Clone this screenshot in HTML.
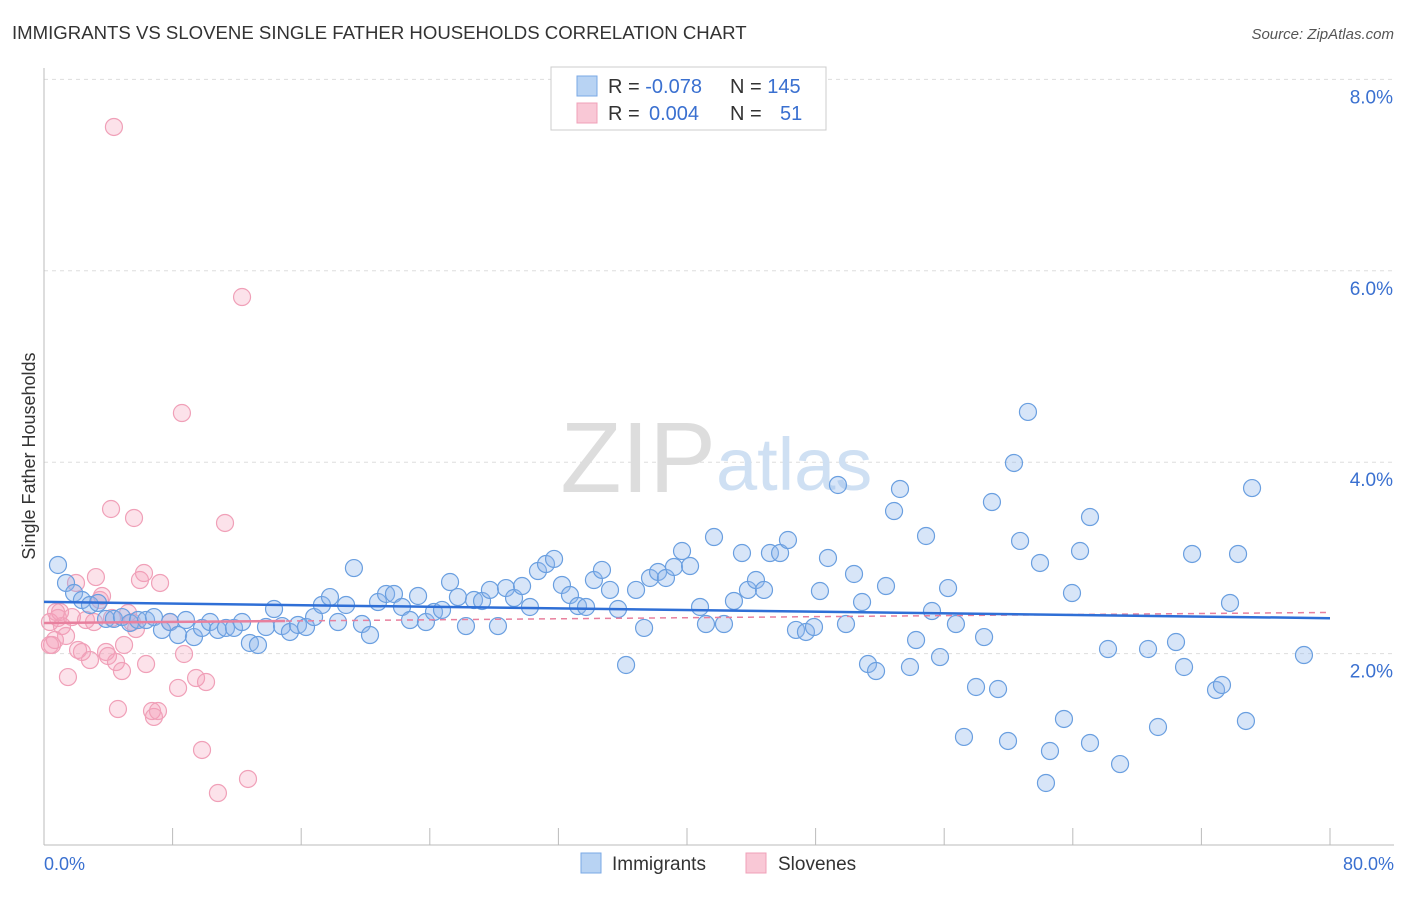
<!DOCTYPE html>
<html><head><meta charset="utf-8"><style>
body{margin:0;background:#fff;font-family:"Liberation Sans",sans-serif;}
svg text{font-family:"Liberation Sans",sans-serif;}
</style></head><body>
<svg id="chart" width="1406" height="892">
<text x="12" y="39" font-size="18.6" fill="#333">IMMIGRANTS VS SLOVENE SINGLE FATHER HOUSEHOLDS CORRELATION CHART</text>
<text x="1394" y="39" font-size="15" fill="#555" font-style="italic" text-anchor="end">Source: ZipAtlas.com</text>
<g id="grid"></g>
<text x="716" y="492" font-size="100" fill="#ddd" text-anchor="end" font-family="Liberation Serif">ZIP</text>
<text x="716" y="490" font-size="74" fill="#cfe0f3">atlas</text>
<g id="marks"></g>
<text transform="translate(35,456) rotate(-90)" font-size="18" fill="#333" text-anchor="middle">Single Father Households</text>
<text x="44" y="870" font-size="18" fill="#3a70d0">0.0%</text>
<text x="1394" y="870" font-size="18" fill="#3a70d0" text-anchor="end">80.0%</text>
<g>
<rect x="551" y="67" width="275" height="63" fill="#fff" stroke="#ccc"/>
<rect x="577" y="76" width="20" height="20" fill="#b8d3f3" stroke="#7aa8e6"/>
<rect x="577" y="103" width="20" height="20" fill="#f9c8d6" stroke="#f0a0b8"/>
<text x="608" y="93" font-size="20" fill="#333">R = <tspan fill="#3a70d0">-0.078</tspan></text>
<text x="730" y="93" font-size="20" fill="#333">N = <tspan fill="#3a70d0">145</tspan></text>
<text x="608" y="120" font-size="20" fill="#333">R = <tspan fill="#3a70d0" x="649">0.004</tspan></text>
<text x="730" y="120" font-size="20" fill="#333">N = <tspan fill="#3a70d0" x="780">51</tspan></text>
</g>
<g>
<rect x="581" y="853" width="20" height="20" fill="#b8d3f3" stroke="#7aa8e6"/>
<text x="612" y="870" font-size="19" fill="#333">Immigrants</text>
<rect x="746" y="853" width="20" height="20" fill="#f9c8d6" stroke="#f0a0b8"/>
<text x="778" y="870" font-size="19" fill="#333">Slovenes</text>
</g>
</svg>
<script>
const yTicks=[2,4,6,8];
const xTicks=[0,8,16,24,32,40,48,56,64,72,80];
const bluePx=[[58,565],[66,583],[74,593],[82,600],[90,605],[98,603],[106,619],[114,619],[122,617],[130,623],[138,620],[146,620],[154,617],[162,630],[170,622],[178,635],[186,620],[194,637],[202,628],[210,622],[218,630],[226,628],[234,628],[242,622],[250,643],[258,645],[266,627],[274,609],[282,626],[290,632],[298,625],[306,627],[314,617],[322,605],[330,597],[338,622],[346,605],[354,568],[362,624],[370,635],[378,602],[386,594],[394,594],[402,607],[410,620],[418,596],[426,622],[434,612],[442,610],[450,582],[458,597],[466,626],[474,600],[482,601],[490,590],[498,626],[506,588],[514,598],[522,586],[530,607],[538,571],[546,564],[554,559],[562,585],[570,595],[578,606],[586,607],[594,580],[602,570],[610,590],[618,609],[626,665],[636,590],[644,628],[650,578],[658,572],[666,578],[674,567],[682,551],[690,566],[700,607],[706,624],[714,537],[724,624],[734,601],[742,553],[748,590],[756,580],[764,590],[770,553],[780,553],[788,540],[796,630],[806,632],[814,627],[820,591],[828,558],[838,485],[846,624],[854,574],[862,602],[868,664],[876,671],[886,586],[894,511],[900,489],[910,667],[916,640],[926,536],[932,611],[940,657],[948,588],[956,624],[964,737],[976,687],[984,637],[992,502],[998,689],[1008,741],[1014,463],[1020,541],[1028,412],[1040,563],[1046,783],[1050,751],[1064,719],[1072,593],[1080,551],[1090,743],[1090,517],[1108,649],[1120,764],[1148,649],[1158,727],[1176,642],[1184,667],[1192,554],[1216,690],[1222,685],[1230,603],[1238,554],[1246,721],[1252,488],[1304,655]];
const pinkPx=[[114,127],[242,297],[182,413],[111,509],[134,518],[225,523],[50,622],[52,645],[55,640],[58,618],[60,612],[62,626],[66,636],[68,677],[72,617],[76,583],[78,650],[82,652],[86,620],[90,660],[94,622],[96,577],[100,600],[102,596],[106,652],[108,656],[112,618],[116,662],[118,709],[122,671],[124,645],[128,613],[132,622],[136,629],[140,580],[144,573],[146,664],[152,711],[154,717],[158,711],[160,583],[170,622],[178,688],[184,654],[196,678],[202,750],[206,682],[218,793],[248,779],[50,645],[56,612]];
// convert read pixel positions to data values (percent)
const blueX=bluePx.map(p=>+((p[0]-44)/16.075).toFixed(2));
const blueY=bluePx.map(p=>+((845-p[1])/95.7).toFixed(3));
const pinkX=pinkPx.map(p=>+((p[0]-44)/16.075).toFixed(2));
const pinkY=pinkPx.map(p=>+((845-p[1])/95.7).toFixed(3));
const blueTrend=[2.54,2.37];
const pinkTrend=[2.32,2.43];
const X=v=>44+v*16.075, Y=v=>845-v*95.7;
const ns="http://www.w3.org/2000/svg";
function mk(t,a,parent){const e=document.createElementNS(ns,t);for(const k in a)e.setAttribute(k,a[k]);parent.appendChild(e);return e;}
const grid=document.getElementById('grid');
yTicks.forEach(t=>{
 const l=mk('line',{x1:44,x2:1394,y1:Y(t),y2:Y(t),stroke:'#ddd','stroke-dasharray':'4,4'},grid);
 
 
 const tx=mk('text',{x:1393,y:Y(t)+24,'font-size':19,fill:'#3a70d0','text-anchor':'end'},grid);
 tx.textContent=t.toFixed(1)+'%';
 
 
});
const ax=mk('line',{x1:44,x2:1394,y1:845,y2:845,stroke:'#bbb'},grid);


const ay=mk('line',{x1:44,x2:44,y1:68,y2:845,stroke:'#bbb'},grid);


xTicks.forEach(t=>{
 const l=mk('line',{x1:X(t),x2:X(t),y1:828,y2:845,stroke:'#bbb'},grid);
 
 
});
const marks=document.getElementById('marks');
pinkX.forEach((x,i)=>{
 const c=mk('circle',{cx:X(x),cy:Y(pinkY[i]),r:8.5,fill:'rgba(245,160,185,0.3)',stroke:'#f0a0b8','stroke-width':1.2},marks);
 
 
});
blueX.forEach((x,i)=>{
 const c=mk('circle',{cx:X(x),cy:Y(blueY[i]),r:8.5,fill:'rgba(140,180,235,0.35)',stroke:'#6a9fe0','stroke-width':1.2},marks);
 
 
});
const pl=mk('line',{x1:X(0),x2:X(80),y1:Y(pinkTrend[0]),y2:Y(pinkTrend[1]),stroke:'#e8809e','stroke-width':1.5,'stroke-dasharray':'6,5'},marks);


const pl2=mk('line',{x1:X(0),x2:X(15),y1:Y(pinkTrend[0]),y2:Y(pinkTrend[0]+(pinkTrend[1]-pinkTrend[0])*15/80),stroke:'#e8809e','stroke-width':2.5},marks);


const bl=mk('line',{x1:X(0),x2:X(80),y1:Y(blueTrend[0]),y2:Y(blueTrend[1]),stroke:'#2f6fd6','stroke-width':2.5},marks);


</script>
</body></html>
